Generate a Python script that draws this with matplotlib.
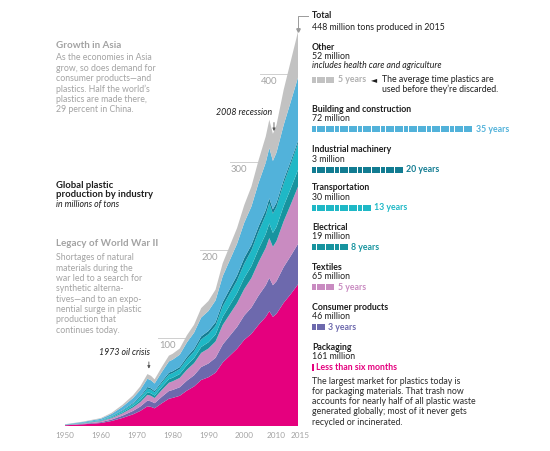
import matplotlib.pyplot as plt
import matplotlib.transforms as mtransforms
from matplotlib.patches import Rectangle

plt.rcParams['font.family'] = ['Lato', 'DejaVu Sans']

# global plastic production by industry, millions of tons
years = [1950, 1955, 1960, 1963, 1966, 1969, 1971, 1973, 1974, 1975, 1977, 1979, 1980,
         1982, 1984, 1986, 1988, 1990, 1992, 1994, 1996, 1998, 2000, 2002, 2004, 2006,
         2007, 2008, 2009, 2011, 2013, 2015]
packaging = [0.8, 1.9, 3.4, 5.7, 9.1, 13.3, 17.1, 22.4, 21.7, 20.1, 25.8, 31.0, 31.9,
             34.3, 40.2, 44.9, 52.3, 55.4, 60.5, 72.2, 80.0, 87.8, 97.9, 104.7, 115.0, 124.0,
             130.5, 124.0, 127.5, 140.0, 150.0, 161]
consumer = [0.2, 0.6, 1.0, 1.6, 2.6, 3.9, 5.0, 6.5, 6.3, 5.8, 7.4, 8.8, 9.0,
            9.7, 11.3, 12.7, 14.7, 15.6, 17.0, 20.4, 22.6, 24.8, 27.6, 29.9, 33.2, 35.8,
            37.8, 36.0, 37.0, 40.6, 43.4, 46]
textiles = [0.2, 0.5, 1.0, 1.7, 2.6, 3.9, 5.0, 6.5, 6.3, 5.9, 7.7, 9.4, 9.8,
            10.6, 12.4, 13.8, 16.1, 17.0, 18.6, 22.2, 24.6, 27.0, 30.1, 33.5, 38.0, 42.5,
            45.3, 43.6, 45.6, 52.0, 58.5, 65]
electrical = [0.1, 0.3, 0.5, 0.8, 1.2, 1.7, 2.2, 3.0, 2.8, 2.7, 3.4, 4.0, 4.1,
              4.4, 5.2, 5.8, 6.7, 7.1, 7.8, 9.3, 10.3, 11.3, 12.6, 13.6, 14.8, 15.8,
              16.6, 15.8, 16.2, 17.4, 18.2, 19]
transportation = [0.1, 0.3, 0.6, 1.0, 1.7, 2.4, 3.2, 4.1, 4.0, 3.7, 4.5, 5.3, 5.3,
                  5.7, 6.7, 7.5, 8.7, 9.2, 10.1, 12.0, 13.3, 14.6, 16.3, 17.9, 20.0, 21.8,
                  23.2, 22.0, 22.8, 25.6, 27.8, 30]
industrial = [0.1, 0.2, 0.3, 0.5, 0.7, 1.0, 1.3, 1.8, 1.7, 1.6, 1.8, 2.1, 2.1,
              2.2, 2.6, 2.9, 3.4, 3.6, 3.9, 4.6, 5.1, 5.6, 6.3, 6.0, 5.8, 5.4,
              5.2, 4.8, 4.6, 4.0, 3.5, 3]
building = [0.3, 0.8, 1.4, 2.4, 3.9, 5.6, 7.2, 9.4, 9.1, 8.5, 10.7, 12.8, 13.1,
            14.1, 16.5, 18.4, 21.4, 22.7, 24.8, 29.6, 32.8, 36.0, 40.2, 43.8, 49.5, 54.0,
            57.4, 55.0, 57.0, 62.4, 67.4, 72]
other = [0.2, 0.4, 0.8, 1.3, 2.2, 3.2, 4.0, 5.3, 5.1, 4.7, 5.7, 6.6, 6.7,
         7.0, 8.1, 9.0, 10.7, 11.4, 12.3, 14.7, 16.3, 17.9, 20.0, 22.6, 25.7, 29.7,
         32.0, 30.8, 31.3, 40.0, 46.2, 52]

xtick_years = [1950, 1960, 1970, 1980, 1990, 2000, 2010, 2015]
grid_values = [100, 200, 300, 400]
grid_spans = [(1976, 1990), (1987.7, 2000), (1996, 2010), (2004.4, 2015)]

# right-hand key, top to bottom
industries = ["Other", "Building and construction", "Industrial machinery", "Transportation",
              "Electrical", "Textiles", "Consumer products", "Packaging"]
amounts_2015 = [52, 72, 3, 30, 19, 65, 46, 161]
lifespans = [5, 35, 20, 13, 8, 5, 3, 0.3]
lifespan_labels = ["5 years", "35 years", "20 years", "13 years", "8 years", "5 years",
                   "3 years", "Less than six months"]
colors = ["#c2c2c2", "#52b2da", "#127c92", "#1fb8c6", "#17949f", "#c98bc1", "#6d69ad", "#e5007e"]
label_colors = ["#b0b0b0", "#52b2da", "#127c92", "#1fb8c6", "#17949f", "#c98bc1", "#6d69ad", "#e5007e"]
heading_y = [47, 109, 150, 188, 227, 267, 307, 347]

GRAY = "#a3a3a3"
DARK = "#1e1e1e"
FS = 6.3

fig = plt.figure(figsize=(5.5, 4.51), dpi=100)

# main chart: 1950 at x=65px, 2015 at x=298px, 0 at y=426px, 0.88 px per million tons
ax = fig.add_axes([65 / 550, 25 / 451, 233 / 550, 480 * 0.88 / 451])
ax.set_xlim(1950, 2015)
ax.set_ylim(0, 480)
stack = [packaging, consumer, textiles, electrical, transportation, industrial, building, other]
ax.stackplot(years, *stack, colors=colors[::-1], linewidth=0, zorder=2)
for v, (x0, x1) in zip(grid_values, grid_spans):
    ax.plot([x0, x1], [v, v], color="#cfcfcf", lw=0.7, zorder=1)
    ax.text(x0 + 0.3, v - 3, str(v), color=GRAY, fontsize=FS + 0.5, ha="left", va="top", zorder=1)
for s in ax.spines.values():
    s.set_visible(False)
ax.set_yticks([])
ax.set_xticks(xtick_years)
ax.set_xticklabels([str(y) for y in xtick_years], color=GRAY, fontsize=5.9)
ax.tick_params(axis="x", length=0, pad=4)
# nudge the crowded 2010 / 2015 labels apart
lbls = ax.get_xticklabels()
lbls[-2].set_transform(lbls[-2].get_transform() + mtransforms.ScaledTranslation(-2.5 / 72, 0, fig.dpi_scale_trans))
lbls[-1].set_transform(lbls[-1].get_transform() + mtransforms.ScaledTranslation(1.5 / 72, 0, fig.dpi_scale_trans))

# total bracket
total = sum(s[-1] for s in stack)
ax.plot([2015, 2015, 2017.8], [total + 1, 466, 466], color="#9a9a9a", lw=0.7, clip_on=False)
ax.plot([2015], [total + 2], marker="v", color="#9a9a9a", ms=2.5, clip_on=False)

# annotations
ax.annotate("", xy=(2008.3, 332), xytext=(2008.3, 348),
            arrowprops=dict(arrowstyle="-|>", color="#555", lw=0.6, mutation_scale=4))
ax.text(2007.8, 356, "2008 recession", style="italic", color=DARK, fontsize=FS, ha="right", va="center")
ax.annotate("", xy=(1973.4, 62), xytext=(1973.4, 76),
            arrowprops=dict(arrowstyle="-|>", color="#555", lw=0.6, mutation_scale=4))
ax.text(1973.8, 84, "1973 oil crisis", style="italic", color=DARK, fontsize=FS, ha="right", va="center")

# overlay in pixel coordinates for the text blocks
ov = fig.add_axes([0, 0, 1, 1], zorder=3)
ov.set_xlim(0, 550)
ov.set_ylim(451, 0)
ov.axis("off")

def line(x, y, s, **kw):
    kw.setdefault("fontsize", FS)
    kw.setdefault("color", DARK)
    ov.text(x, y, s, ha="left", va="center", **kw)

# left text
line(56, 46, "Growth in Asia", color=GRAY, fontsize=FS + 0.8, weight="bold")
for i, s in enumerate(["As the economies in Asia", "grow, so does demand for",
                       "consumer products\u2014and", "plastics. Half the world\u2019s",
                       "plastics are made there,", "29 percent in China."]):
    line(56, 58 + i * 10.4, s, color=GRAY)
line(56, 185, "Global plastic", weight="bold", fontsize=FS + 0.5)
line(56, 194.5, "production by industry", weight="bold", fontsize=FS + 0.5)
line(56, 204, "in millions of tons", style="italic")
line(56, 244, "Legacy of World War II", color=GRAY, fontsize=FS + 0.8, weight="bold")
for i, s in enumerate(["Shortages of natural", "materials during the", "war led to a search for",
                       "synthetic alterna-", "tives\u2014and to an expo-", "nential surge in plastic",
                       "production that", "continues today."]):
    line(56, 258 + i * 10.3, s, color=GRAY)

# right key
X0 = 312
line(X0, 16, "Total", weight="bold")
line(X0, 27, f"{total:.0f} million tons produced in 2015")
seg = 4.6
for name, amt, life, lab, col, lcol, hy in zip(industries, amounts_2015, lifespans, lifespan_labels,
                                                colors, label_colors, heading_y):
    line(X0, hy, name, weight="bold")
    line(X0, hy + 9.5, f"{amt} million")
    by = hy + 20
    if name == "Other":
        line(X0, hy + 18.5, "includes health care and agriculture", style="italic")
        by = hy + 33
    if life >= 1:
        for k in range(int(life)):
            ov.add_patch(Rectangle((X0 + k * seg, by - 3), seg - 0.6, 6, color=col, lw=0))
        end = X0 + life * seg
    else:
        ov.add_patch(Rectangle((X0, by - 3.5), 1.5, 7, color=col, lw=0))
        end = X0 + 2
    line(end + 2.5, by, lab, color=lcol, weight="bold")

line(371, 80, "\u25c4", fontsize=FS - 0.5)
line(382, 80, "The average time plastics are")
line(382, 89.5, "used before they\u2019re discarded.")

for i, s in enumerate(["The largest market for plastics today is",
                       "for packaging materials. That trash now",
                       "accounts for nearly half of all plastic waste",
                       "generated globally; most of it never gets",
                       "recycled or incinerated."]):
    line(X0, 381 + i * 10.3, s, color="#2a2a2a")

fig.savefig("out.png", dpi=100)
